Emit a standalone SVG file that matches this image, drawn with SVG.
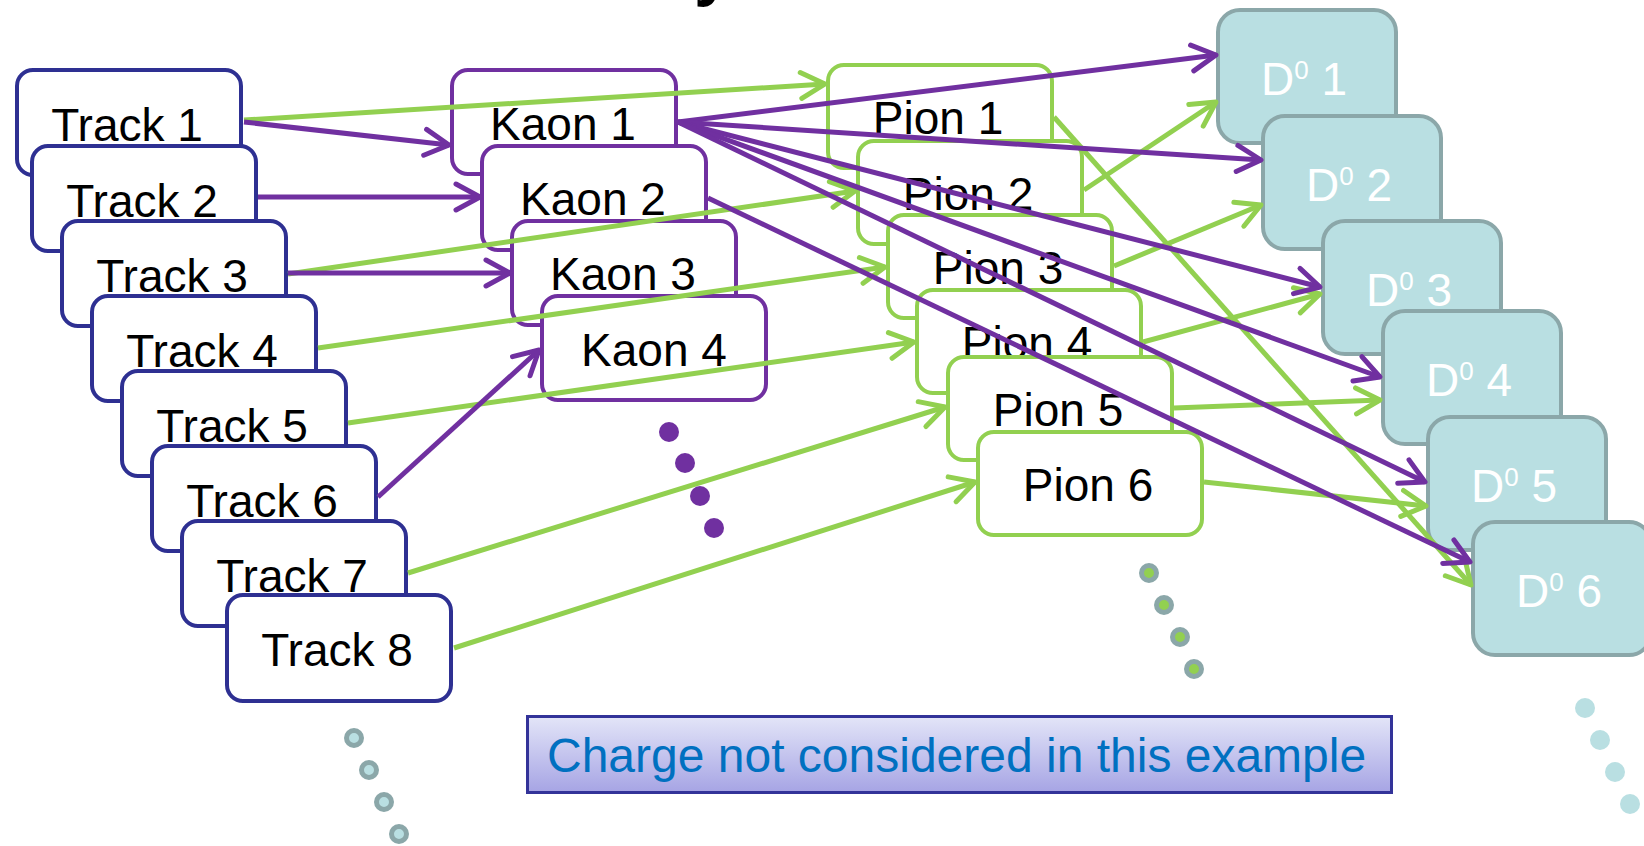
<svg xmlns="http://www.w3.org/2000/svg" width="1644" height="846" viewBox="0 0 1644 846">
<style>
text{font-family:"Liberation Sans",Arial,sans-serif;}
.lbl{font-size:46px;fill:#000;text-anchor:middle;}
.dlbl{font-size:46px;fill:#fff;text-anchor:middle;}
.sup{font-size:26px;}
.trk{fill:#fff;stroke:#2E3092;stroke-width:4;}
.kao{fill:#fff;stroke:#7030A0;stroke-width:4;}
.pio{fill:#fff;stroke:#92D050;stroke-width:4;}
.dz{fill:#B9DFE2;stroke:#8BA7A9;stroke-width:4;}
.pl{stroke:#7030A0;stroke-width:5;fill:none;marker-end:url(#ap);}
.gl{stroke:#92D050;stroke-width:5;fill:none;marker-end:url(#ag);}
</style>
<defs>
<marker id="ap" markerUnits="userSpaceOnUse" markerWidth="40" markerHeight="40" viewBox="-30 -20 40 40" refX="0" refY="0" orient="auto" overflow="visible">
<path d="M-24,-13 L0,0 L-24,13" fill="none" stroke="#7030A0" stroke-width="5" stroke-linecap="round" stroke-linejoin="round"/>
</marker>
<marker id="ag" markerUnits="userSpaceOnUse" markerWidth="40" markerHeight="40" viewBox="-30 -20 40 40" refX="0" refY="0" orient="auto" overflow="visible">
<path d="M-24,-13 L0,0 L-24,13" fill="none" stroke="#92D050" stroke-width="5" stroke-linecap="round" stroke-linejoin="round"/>
</marker>
<linearGradient id="lg" x1="0" y1="0" x2="0" y2="1">
<stop offset="0" stop-color="#E3E5F8"/>
<stop offset="1" stop-color="#A6A4E4"/>
</linearGradient>
</defs>

<text x="694" y="-7" font-size="68" font-weight="bold" fill="#000">y</text>

<g id="tracks">
<g id="track1"><rect class="trk" x="17" y="70" width="224" height="105" rx="16"/><text class="lbl" x="127" y="141">Track 1</text></g>
<g id="track2"><rect class="trk" x="32" y="146" width="224" height="105" rx="16"/><text class="lbl" x="142" y="217">Track 2</text></g>
<g id="track3"><rect class="trk" x="62" y="221" width="224" height="105" rx="16"/><text class="lbl" x="172" y="292">Track 3</text></g>
<g id="track4"><rect class="trk" x="92" y="296" width="224" height="105" rx="16"/><text class="lbl" x="202" y="367">Track 4</text></g>
<g id="track5"><rect class="trk" x="122" y="371" width="224" height="105" rx="16"/><text class="lbl" x="232" y="442">Track 5</text></g>
<g id="track6"><rect class="trk" x="152" y="446" width="224" height="105" rx="16"/><text class="lbl" x="262" y="517">Track 6</text></g>
<g id="track7"><rect class="trk" x="182" y="521" width="224" height="105" rx="16"/><text class="lbl" x="292" y="592">Track 7</text></g>
<g id="track8"><rect class="trk" x="227" y="595" width="224" height="106" rx="16"/><text class="lbl" x="337" y="666">Track 8</text></g>
</g>

<g id="kaons">
<g id="kaon1"><rect class="kao" x="452" y="70" width="224" height="104" rx="16"/><text class="lbl" x="563" y="140">Kaon 1</text></g>
<g id="kaon2"><rect class="kao" x="482" y="146" width="224" height="104" rx="16"/><text class="lbl" x="593" y="215">Kaon 2</text></g>
<g id="kaon3"><rect class="kao" x="512" y="221" width="224" height="104" rx="16"/><text class="lbl" x="623" y="290">Kaon 3</text></g>
<g id="kaon4"><rect class="kao" x="542" y="296" width="224" height="104" rx="16"/><text class="lbl" x="654" y="366">Kaon 4</text></g>
</g>

<g id="pions">
<g id="pion1"><rect class="pio" x="828" y="65" width="224" height="103" rx="16"/><text class="lbl" x="938" y="134">Pion 1</text></g>
<g id="pion2"><rect class="pio" x="858" y="141" width="224" height="103" rx="16"/><text class="lbl" x="968" y="210">Pion 2</text></g>
<g id="pion3"><rect class="pio" x="888" y="215" width="224" height="103" rx="16"/><text class="lbl" x="998" y="284">Pion 3</text></g>
<g id="pion4"><rect class="pio" x="917" y="290" width="224" height="103" rx="16"/><text class="lbl" x="1027" y="359">Pion 4</text></g>
<g id="pion5"><rect class="pio" x="948" y="357" width="224" height="103" rx="16"/><text class="lbl" x="1058" y="426">Pion 5</text></g>
<g id="pion6"><rect class="pio" x="978" y="432" width="224" height="103" rx="16"/><text class="lbl" x="1088" y="501">Pion 6</text></g>
</g>

<g id="d0s">
<g id="d0_1"><rect class="dz" x="1218" y="10" width="178" height="133" rx="22"/><text class="dlbl" x="1304" y="95">D<tspan class="sup" dy="-16">0</tspan><tspan dy="16"> 1</tspan></text></g>
<g id="d0_2"><rect class="dz" x="1263" y="116" width="178" height="133" rx="22"/><text class="dlbl" x="1349" y="201">D<tspan class="sup" dy="-16">0</tspan><tspan dy="16"> 2</tspan></text></g>
<g id="d0_3"><rect class="dz" x="1323" y="221" width="178" height="133" rx="22"/><text class="dlbl" x="1409" y="306">D<tspan class="sup" dy="-16">0</tspan><tspan dy="16"> 3</tspan></text></g>
<g id="d0_4"><rect class="dz" x="1383" y="311" width="178" height="133" rx="22"/><text class="dlbl" x="1469" y="396">D<tspan class="sup" dy="-16">0</tspan><tspan dy="16"> 4</tspan></text></g>
<g id="d0_5"><rect class="dz" x="1428" y="417" width="178" height="133" rx="22"/><text class="dlbl" x="1514" y="502">D<tspan class="sup" dy="-16">0</tspan><tspan dy="16"> 5</tspan></text></g>
<g id="d0_6"><rect class="dz" x="1473" y="522" width="178" height="133" rx="22"/><text class="dlbl" x="1559" y="607">D<tspan class="sup" dy="-16">0</tspan><tspan dy="16"> 6</tspan></text></g>
</g>

<g id="connectors">
<line class="gl" x1="244" y1="120" x2="825" y2="84"/>
<line class="gl" x1="288" y1="274" x2="855" y2="191"/>
<line class="gl" x1="318" y1="348" x2="885" y2="267"/>
<line class="gl" x1="348" y1="423" x2="914" y2="342"/>
<line class="gl" x1="408" y1="573" x2="945" y2="407"/>
<line class="gl" x1="454" y1="648" x2="975" y2="482"/>
<line class="gl" x1="1054" y1="117" x2="1471" y2="585"/>
<line class="gl" x1="1084" y1="190" x2="1216" y2="102"/>
<line class="gl" x1="1114" y1="266" x2="1261" y2="205"/>
<line class="gl" x1="1143" y1="342" x2="1320" y2="294"/>
<line class="gl" x1="1174" y1="408" x2="1380" y2="400"/>
<line class="gl" x1="1204" y1="482" x2="1426" y2="506"/>
<line class="pl" x1="244" y1="122" x2="449" y2="145"/>
<line class="pl" x1="258" y1="197" x2="480" y2="197"/>
<line class="pl" x1="288" y1="273" x2="510" y2="273"/>
<line class="pl" x1="378" y1="497" x2="539" y2="350"/>
<line class="pl" x1="678" y1="122" x2="1216" y2="55"/>
<line class="pl" x1="678" y1="122" x2="1261" y2="160"/>
<line class="pl" x1="678" y1="122" x2="1320" y2="287"/>
<line class="pl" x1="678" y1="122" x2="1380" y2="377"/>
<line class="pl" x1="678" y1="122" x2="1425" y2="482"/>
<line class="pl" x1="708" y1="198" x2="1470" y2="562"/>
</g>

<g id="dots">
<g fill="#7030A0">
<circle cx="669" cy="432" r="10"/><circle cx="685" cy="463" r="10"/><circle cx="700" cy="496" r="10"/><circle cx="714" cy="528" r="10"/>
</g>
<g fill="#92D050" stroke="#8BA7A9" stroke-width="5">
<circle cx="1149" cy="573" r="7.5"/><circle cx="1164" cy="605" r="7.5"/><circle cx="1180" cy="637" r="7.5"/><circle cx="1194" cy="669" r="7.5"/>
</g>
<g fill="#B9DFE2" stroke="#8BA7A9" stroke-width="5">
<circle cx="354" cy="738" r="7.5"/><circle cx="369" cy="770" r="7.5"/><circle cx="384" cy="802" r="7.5"/><circle cx="399" cy="834" r="7.5"/>
</g>
<g fill="#B9DFE2">
<circle cx="1585" cy="708" r="10"/><circle cx="1600" cy="740" r="10"/><circle cx="1615" cy="772" r="10"/><circle cx="1630" cy="804" r="10"/>
</g>
</g>

<g id="note">
<rect x="527.5" y="716.5" width="864" height="76" fill="url(#lg)" stroke="#333399" stroke-width="3"/>
<text x="547" y="772" font-size="48" fill="#0070C0">Charge not considered in this example</text>
</g>
</svg>
